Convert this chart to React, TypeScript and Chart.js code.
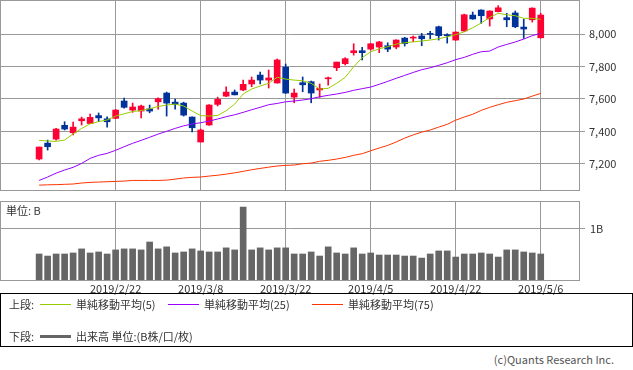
import React, { useEffect, useRef } from "react";
import { Chart, registerables } from "chart.js";

Chart.register(...registerables);

const FONT = '"Noto Sans CJK JP", "DejaVu Sans", sans-serif';

// ---- data (2019/2/8 .. 2019/5/6, 60 sessions) ----
const opens = [7229, 7327, 7352, 7437, 7391, 7465, 7448, 7497, 7477, 7480, 7587, 7531, 7525, 7539, 7582, 7636, 7580, 7574, 7488, 7334, 7439, 7566, 7617, 7642, 7655, 7692, 7747, 7716, 7698, 7796, 7611, 7700, 7706, 7655, 7724, 7792, 7817, 7885, 7897, 7907, 7920, 7928, 7920, 7975, 7975, 7988, 8004, 8045, 7996, 7963, 8019, 8117, 8148, 8093, 8138, 8101, 8130, 8043, 8088, 7977];
const highs = [7303, 7346, 7418, 7459, 7457, 7488, 7506, 7513, 7490, 7535, 7605, 7574, 7562, 7562, 7607, 7642, 7599, 7580, 7490, 7414, 7565, 7611, 7675, 7655, 7716, 7735, 7766, 7778, 7846, 7815, 7661, 7735, 7710, 7692, 7735, 7827, 7854, 7940, 7918, 7942, 7955, 7946, 7965, 7980, 7988, 8004, 8017, 8049, 8002, 8014, 8123, 8136, 8150, 8144, 8175, 8128, 8142, 8091, 8162, 8128];
const lows = [7223, 7284, 7346, 7408, 7377, 7439, 7448, 7460, 7426, 7478, 7543, 7517, 7482, 7514, 7537, 7494, 7537, 7494, 7397, 7334, 7437, 7556, 7613, 7624, 7650, 7675, 7692, 7667, 7697, 7634, 7576, 7644, 7576, 7609, 7685, 7774, 7809, 7870, 7840, 7901, 7885, 7891, 7909, 7926, 7952, 7928, 7971, 7963, 7944, 7961, 8014, 8091, 8066, 8049, 8136, 8045, 8039, 7973, 8074, 7975];
const closes = [7303, 7305, 7414, 7414, 7426, 7477, 7486, 7483, 7459, 7531, 7548, 7550, 7556, 7525, 7601, 7574, 7566, 7500, 7422, 7408, 7562, 7597, 7642, 7625, 7690, 7716, 7716, 7729, 7840, 7636, 7636, 7687, 7636, 7665, 7730, 7827, 7848, 7897, 7885, 7940, 7951, 7907, 7963, 7941, 7981, 7971, 7998, 7990, 7990, 8012, 8119, 8093, 8113, 8142, 8162, 8088, 8045, 8031, 8160, 8117];
const ma5 = [7344, 7340, 7338, 7346, 7384, 7418, 7446, 7460, 7470, 7494, 7508, 7522, 7528, 7539, 7553, 7562, 7568, 7556, 7525, 7497, 7494, 7498, 7527, 7568, 7630, 7661, 7679, 7696, 7733, 7722, 7716, 7712, 7696, 7660, 7665, 7696, 7733, 7798, 7854, 7891, 7909, 7922, 7938, 7946, 7952, 7957, 7963, 7971, 7983, 7996, 8014, 8039, 8068, 8103, 8128, 8119, 8113, 8097, 8097, 8091];
const ma25 = [7097, 7118, 7142, 7161, 7178, 7202, 7233, 7252, 7264, 7283, 7305, 7326, 7344, 7363, 7383, 7400, 7418, 7434, 7445, 7453, 7463, 7476, 7490, 7502, 7517, 7533, 7548, 7564, 7572, 7582, 7587, 7593, 7601, 7613, 7622, 7630, 7640, 7653, 7663, 7673, 7690, 7708, 7727, 7745, 7763, 7780, 7792, 7807, 7823, 7842, 7856, 7875, 7891, 7895, 7920, 7936, 7951, 7969, 7990, 8004];
const ma75 = [7068, 7070, 7071, 7073, 7075, 7081, 7085, 7087, 7089, 7091, 7093, 7097, 7097, 7097, 7097, 7099, 7105, 7112, 7116, 7118, 7124, 7129, 7136, 7144, 7153, 7163, 7171, 7179, 7186, 7190, 7192, 7200, 7204, 7215, 7221, 7229, 7239, 7252, 7262, 7280, 7297, 7313, 7334, 7358, 7378, 7395, 7408, 7426, 7443, 7469, 7488, 7505, 7529, 7548, 7564, 7579, 7589, 7599, 7617, 7634];
const volumes = [0.51, 0.47, 0.51, 0.51, 0.53, 0.61, 0.53, 0.55, 0.51, 0.59, 0.61, 0.61, 0.59, 0.745, 0.61, 0.65, 0.53, 0.55, 0.61, 0.57, 0.55, 0.55, 0.63, 0.59, 1.43, 0.59, 0.63, 0.59, 0.63, 0.63, 0.51, 0.51, 0.55, 0.47, 0.65, 0.53, 0.51, 0.63, 0.51, 0.53, 0.49, 0.49, 0.49, 0.47, 0.47, 0.43, 0.51, 0.57, 0.57, 0.45, 0.51, 0.51, 0.53, 0.51, 0.45, 0.59, 0.59, 0.55, 0.53, 0.51];

const xTickIdx = [9, 19, 29, 39, 49, 59];
const xTickLabels = ["2019/2/22", "2019/3/8", "2019/3/22", "2019/4/5", "2019/4/22", "2019/5/6"];
const priceTicks = [7200, 7400, 7600, 7800, 8000];
const volTicks = [1];
const volTickLabels = ["1B"];

const X_MIN = -4.6;
const X_MAX = 63.5;
const P_MIN = 7038;
const P_MAX = 8210;
const V_MAX = 1.549;

const UP = "#ff0033";
const DOWN = "#003399";
const GRID = "#999999";
const TEXT = "#333333";

const idx = opens.map((_, i) => i);
const candleColor = (c: any) => {
  const i = c.dataIndex;
  return closes[i] >= opens[i] ? UP : DOWN;
};

const boxPlugin = {
  id: "box",
  afterDraw(chart: any) {
    const { ctx, chartArea: a } = chart;
    ctx.save();
    ctx.strokeStyle = GRID;
    ctx.lineWidth = 1;
    const l = Math.round(a.left) + 0.5;
    const t = Math.round(a.top) + 0.5;
    const r = Math.round(a.right) + 0.5;
    const b = Math.round(a.bottom) + 0.5;
    ctx.strokeRect(l, t, r - l, b - t);
    ctx.restore();
  },
};

const tickFont = { family: FONT, size: 11 };

export default function App() {
  const priceRef = useRef<HTMLCanvasElement>(null);
  const volRef = useRef<HTMLCanvasElement>(null);

  useEffect(() => {
    const line = (data: number[], color: string) => ({
      type: "line" as const,
      data: idx.map((i) => ({ x: i, y: data[i] })),
      borderColor: color,
      borderWidth: 1,
      pointRadius: 0,
      tension: 0,
      fill: false,
      order: 0,
    });
    const c1 = new Chart(priceRef.current!, {
      type: "line",
      data: {
        datasets: [
          line(ma5, "#99cc00"),
          line(ma25, "#9900ff"),
          line(ma75, "#ff3300"),
          {
            type: "bar",
            data: idx.map((i) => ({ x: i, y: [opens[i], closes[i]] })) as any,
            backgroundColor: candleColor,
            barThickness: 6,
            grouped: false,
            borderWidth: 0,
            order: 1,
          } as any,
          {
            type: "bar",
            data: idx.map((i) => ({ x: i, y: [lows[i], highs[i]] })) as any,
            backgroundColor: candleColor,
            barThickness: 1,
            grouped: false,
            borderWidth: 0,
            order: 2,
          } as any,
        ],
      },
      options: {
        animation: false,
        responsive: false,
        devicePixelRatio: 1,
        layout: { padding: 0 },
        plugins: { legend: { display: false }, tooltip: { enabled: false } },
        scales: {
          x: {
            type: "linear",
            min: X_MIN,
            max: X_MAX,
            offset: false,
            afterBuildTicks: (s: any) => {
              s.ticks = xTickIdx.map((v) => ({ value: v }));
            },
            ticks: { display: false },
            grid: { color: GRID, drawTicks: false, offset: false },
            border: { display: false },
            afterFit: (s: any) => {
              s.height = 5;
              s.paddingLeft = 0;
              s.paddingRight = 0;
            },
          },
          y: {
            type: "linear",
            position: "right",
            min: P_MIN,
            max: P_MAX,
            afterBuildTicks: (s: any) => {
              s.ticks = priceTicks.map((v) => ({ value: v }));
            },
            ticks: {
              font: tickFont,
              color: TEXT,
              padding: 4,
              callback: (v: any) => Number(v).toLocaleString("en-US"),
            },
            grid: { color: GRID, tickLength: 6 },
            border: { display: false },
            afterFit: (s: any) => {
              s.width = 54;
              s.paddingTop = 0;
              s.paddingBottom = 0;
            },
          },
        },
      } as any,
      plugins: [boxPlugin],
    });

    const c2 = new Chart(volRef.current!, {
      type: "bar",
      data: {
        datasets: [
          {
            data: idx.map((i) => ({ x: i, y: volumes[i] })) as any,
            backgroundColor: "#666666",
            barThickness: 6,
            borderWidth: 0,
          },
        ],
      },
      options: {
        animation: false,
        responsive: false,
        devicePixelRatio: 1,
        layout: { padding: { top: 6, left: 0, right: 0, bottom: 0 } },
        plugins: { legend: { display: false }, tooltip: { enabled: false } },
        scales: {
          x: {
            type: "linear",
            min: X_MIN,
            max: X_MAX,
            offset: false,
            afterBuildTicks: (s: any) => {
              s.ticks = xTickIdx.map((v) => ({ value: v }));
            },
            ticks: {
              font: tickFont,
              color: TEXT,
              padding: 2,
              maxRotation: 0,
              autoSkip: false,
              callback: (v: any) => {
                const k = xTickIdx.indexOf(Number(v));
                return k >= 0 ? xTickLabels[k] : "";
              },
            },
            grid: { color: GRID, drawTicks: false, offset: false },
            border: { display: false },
            afterFit: (s: any) => {
              s.height = 20;
              s.paddingLeft = 0;
              s.paddingRight = 0;
            },
          },
          y: {
            type: "linear",
            position: "right",
            min: 0,
            max: V_MAX,
            beginAtZero: true,
            afterBuildTicks: (s: any) => {
              s.ticks = volTicks.map((v) => ({ value: v }));
            },
            ticks: {
              font: tickFont,
              color: TEXT,
              padding: 5,
              callback: (v: any) => {
                const k = volTicks.indexOf(Number(v));
                return k >= 0 ? volTickLabels[k] : "";
              },
            },
            grid: { color: GRID, tickLength: 6 },
            border: { display: false },
            afterFit: (s: any) => {
              s.width = 54;
              s.paddingTop = 0;
              s.paddingBottom = 0;
            },
          },
        },
      } as any,
      plugins: [boxPlugin],
    });

    return () => {
      c1.destroy();
      c2.destroy();
    };
  }, []);

  const txt = (left: number, cy: number, s: string, extra: any = {}) => (
    <div
      style={{
        position: "absolute",
        left,
        top: cy - 7,
        height: 14,
        lineHeight: "14px",
        fontSize: 11,
        whiteSpace: "nowrap",
        ...extra,
      }}
    >
      {s}
    </div>
  );
  const bar = (left: number, cy: number, color: string, h = 1) => (
    <div
      style={{
        position: "absolute",
        left,
        top: cy - Math.floor(h / 2),
        width: 31,
        height: h,
        background: color,
      }}
    />
  );

  return (
    <div
      style={{
        position: "absolute",
        left: 0,
        top: 0,
        width: 633,
        height: 370,
        background: "#fff",
        fontFamily: FONT,
        color: TEXT,
        overflow: "hidden",
      }}
    >
      <canvas ref={priceRef} width={633} height={195} style={{ position: "absolute", left: 0, top: 0, width: 633, height: 195 }} />
      <canvas ref={volRef} width={633} height={105} style={{ position: "absolute", left: 0, top: 195, width: 633, height: 105 }} />
      {txt(6, 210, "単位: B")}
      <div
        style={{
          position: "absolute",
          left: 0,
          top: 293,
          width: 631,
          height: 52,
          border: "1px solid #000",
        }}
      />
      {txt(9, 304, "上段:")}
      {bar(40, 304, "#99cc00")}
      {txt(76, 304, "単純移動平均(5)")}
      {bar(168, 304, "#9900ff")}
      {txt(204, 304, "単純移動平均(25)")}
      {bar(312, 304, "#ff3300")}
      {txt(348, 304, "単純移動平均(75)")}
      {txt(9, 336, "下段:")}
      {bar(40, 336, "#666666", 3)}
      {txt(76, 336, "出来高 単位:(B株/口/枚)")}
      {txt(0, 359, "(c)Quants Research Inc.", { left: "auto", right: 19, color: "#555" })}
    </div>
  );
}
